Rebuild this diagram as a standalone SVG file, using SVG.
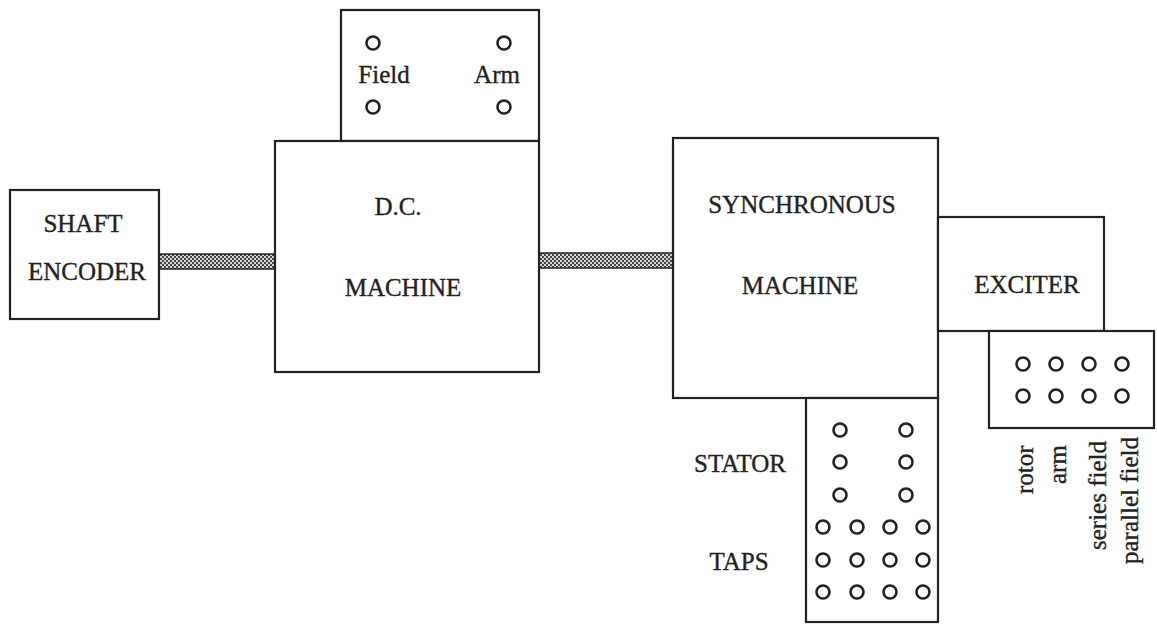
<svg xmlns="http://www.w3.org/2000/svg" width="1157" height="625" viewBox="0 0 1157 625">
<style>
.box{fill:#fff;stroke:#222;stroke-width:2.2}
.t{font-family:"Liberation Serif","Times New Roman",serif;font-size:25px;fill:#222;stroke:#222;stroke-width:0.35}
.m{text-anchor:middle}
.c{fill:none;stroke:#222;stroke-width:2.6}
.shaft{fill:url(#checker);stroke:#222;stroke-width:1.5}
</style>
<defs>
<pattern id="checker" width="4" height="4" patternUnits="userSpaceOnUse">
<rect width="4" height="4" fill="#444"/>
<rect x="0" y="0" width="2" height="2" fill="#d8d8d8"/>
<rect x="2" y="2" width="2" height="2" fill="#d8d8d8"/>
</pattern>
</defs>
<rect width="1157" height="625" fill="#fff"/>
<g id="connectors">
<rect class="shaft" x="159" y="254" width="116" height="15"/>
<rect class="shaft" x="539" y="253" width="134" height="15"/>
</g>
<g id="shaft-encoder">
<rect class="box" x="10" y="190" width="149" height="129"/>
<text class="t m" x="83" y="232">SHAFT</text>
<text class="t m" x="87" y="280">ENCODER</text>
</g>
<g id="dc-terminals">
<rect class="box" x="341" y="10" width="198" height="131"/>
<circle class="c" cx="373" cy="43" r="6.5"/>
<circle class="c" cx="373" cy="107" r="6.5"/>
<circle class="c" cx="504" cy="43" r="6.5"/>
<circle class="c" cx="504" cy="107" r="6.5"/>
<text class="t m" x="384" y="83">Field</text>
<text class="t m" x="497" y="83">Arm</text>
</g>
<g id="dc-machine">
<rect class="box" x="275" y="141" width="264" height="231"/>
<text class="t m" x="398" y="215">D.C.</text>
<text class="t m" x="403" y="296">MACHINE</text>
</g>
<g id="synchronous-machine">
<rect class="box" x="673" y="138" width="265" height="260"/>
<text class="t m" x="802" y="213">SYNCHRONOUS</text>
<text class="t m" x="800" y="294">MACHINE</text>
</g>
<g id="exciter">
<rect class="box" x="938" y="217" width="166" height="114"/>
<text class="t m" x="1027" y="293">EXCITER</text>
</g>
<g id="exciter-terminals">
<rect class="box" x="989" y="331" width="165" height="97"/>
<circle class="c" cx="1023" cy="364" r="6.5"/>
<circle class="c" cx="1056" cy="364" r="6.5"/>
<circle class="c" cx="1089" cy="364" r="6.5"/>
<circle class="c" cx="1122" cy="364" r="6.5"/>
<circle class="c" cx="1023" cy="396" r="6.5"/>
<circle class="c" cx="1056" cy="396" r="6.5"/>
<circle class="c" cx="1089" cy="396" r="6.5"/>
<circle class="c" cx="1122" cy="396" r="6.5"/>
<text class="t" transform="translate(1033,494) rotate(-90)">rotor</text>
<text class="t" transform="translate(1066,484) rotate(-90)">arm</text>
<text class="t" transform="translate(1106,550) rotate(-90)">series field</text>
<text class="t" transform="translate(1138,564) rotate(-90)">parallel field</text>
</g>
<g id="stator-taps">
<rect class="box" x="806" y="398" width="132" height="224"/>
<circle class="c" cx="840" cy="430" r="6.5"/>
<circle class="c" cx="906" cy="430" r="6.5"/>
<circle class="c" cx="840" cy="462" r="6.5"/>
<circle class="c" cx="906" cy="462" r="6.5"/>
<circle class="c" cx="840" cy="495" r="6.5"/>
<circle class="c" cx="906" cy="495" r="6.5"/>
<circle class="c" cx="823" cy="527" r="6.5"/>
<circle class="c" cx="857" cy="527" r="6.5"/>
<circle class="c" cx="890" cy="527" r="6.5"/>
<circle class="c" cx="923" cy="527" r="6.5"/>
<circle class="c" cx="823" cy="560" r="6.5"/>
<circle class="c" cx="857" cy="560" r="6.5"/>
<circle class="c" cx="890" cy="560" r="6.5"/>
<circle class="c" cx="923" cy="560" r="6.5"/>
<circle class="c" cx="823" cy="592" r="6.5"/>
<circle class="c" cx="857" cy="592" r="6.5"/>
<circle class="c" cx="890" cy="592" r="6.5"/>
<circle class="c" cx="923" cy="592" r="6.5"/>
<text class="t m" x="740" y="472">STATOR</text>
<text class="t m" x="739" y="570">TAPS</text>
</g>
</svg>
